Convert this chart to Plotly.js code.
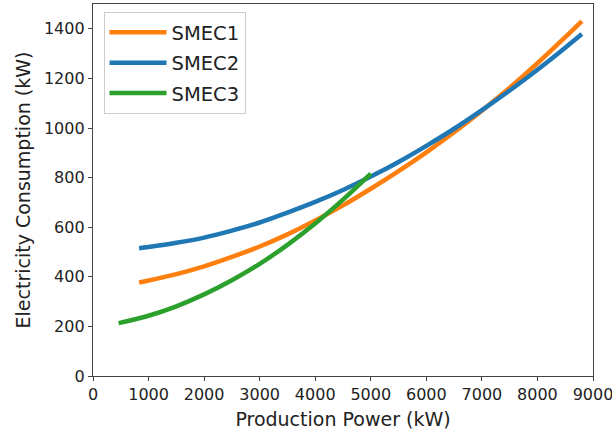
<!DOCTYPE html>
<html>
<head>
<meta charset="utf-8">
<script src="https://cdn.plot.ly/plotly-3.0.1.min.js"></script>
<style>html,body{margin:0;padding:0;background:#fff;}#chart{width:612px;height:432px;}</style>
</head>
<body>
<div id="chart"></div>
<script>
// Production power (kW) and electricity consumption (kW)
const smec1X = [830, 1000, 1500, 2000, 2500, 3000, 3500, 4000, 4500, 5000, 5500, 6000, 6500, 7000, 7500, 8000, 8500, 8800];
const smec1Y = [377, 385, 411, 442, 480, 522, 571, 627, 688, 755, 826, 902, 983, 1070, 1162, 1261, 1366, 1431];
const smec2X = [830, 1000, 1500, 2000, 2500, 3000, 3500, 4000, 4500, 5000, 5500, 6000, 6500, 7000, 7500, 8000, 8500, 8800];
const smec2Y = [515, 520, 537, 558, 586, 619, 659, 702, 750, 804, 863, 928, 997, 1072, 1151, 1235, 1324, 1379];
const smec3X = [460, 1000, 1500, 2000, 2500, 3000, 3500, 4000, 4500, 5000];
const smec3Y = [213, 243, 281, 329, 386, 452, 529, 615, 711, 816];
const seriesNames = ["SMEC1", "SMEC2", "SMEC3"];
const seriesColors = ["#ff7f0e", "#1f77b4", "#2ca02c"];
const xTicks = [0, 1000, 2000, 3000, 4000, 5000, 6000, 7000, 8000, 9000];
const yTicks = [0, 200, 400, 600, 800, 1000, 1200, 1400];

const xs = [smec1X, smec2X, smec3X];
const ys = [smec1Y, smec2Y, smec3Y];
const traces = seriesNames.map((n, i) => ({
  x: xs[i], y: ys[i], name: n, legendgroup: n, type: 'scatter', mode: 'lines',
  line: {color: seriesColors[i], width: 4.5, shape: 'spline'}
}));

const font = {family: 'DejaVu Sans, sans-serif', color: '#222'};
const layout = {
  width: 612, height: 432,
  margin: {l: 93, r: 19, t: 4, b: 56},
  paper_bgcolor: '#fff', plot_bgcolor: '#fff',
  font: font,
  showlegend: true,
  legend: {
    x: 0.021, y: 0.978, xanchor: 'left', yanchor: 'top',
    bgcolor: 'rgba(255,255,255,0.8)', bordercolor: '#cccccc', borderwidth: 1,
    font: {family: font.family, size: 19.5, color: '#222'},
    traceorder: 'grouped', tracegroupgap: 2, itemwidth: 57
  },
  xaxis: {
    range: [0, 9000], tickvals: xTicks, ticktext: xTicks.map(String),
    showgrid: false, zeroline: false, showline: true, mirror: true,
    linecolor: '#444', linewidth: 1.2,
    ticks: 'outside', ticklen: 4, tickcolor: '#444', tickwidth: 1,
    ticklabeloverflow: 'allow',
    tickfont: {family: font.family, size: 16, color: '#222'},
    title: {text: 'Production Power (kW)', font: {family: font.family, size: 19, color: '#222'}, standoff: 9},
    automargin: false
  },
  yaxis: {
    range: [0, 1500], tickvals: yTicks, ticktext: yTicks.map(String),
    showgrid: false, zeroline: false, showline: true, mirror: true,
    linecolor: '#444', linewidth: 1.2,
    ticks: 'outside', ticklen: 4, tickcolor: '#444', tickwidth: 1,
    tickfont: {family: font.family, size: 16, color: '#222'},
    title: {text: 'Electricity Consumption (kW)', font: {family: font.family, size: 19, color: '#222'}, standoff: 8},
    automargin: false
  }
};
Plotly.newPlot('chart', traces, layout, {displayModeBar: false, staticPlot: true});
</script>
</body>
</html>
